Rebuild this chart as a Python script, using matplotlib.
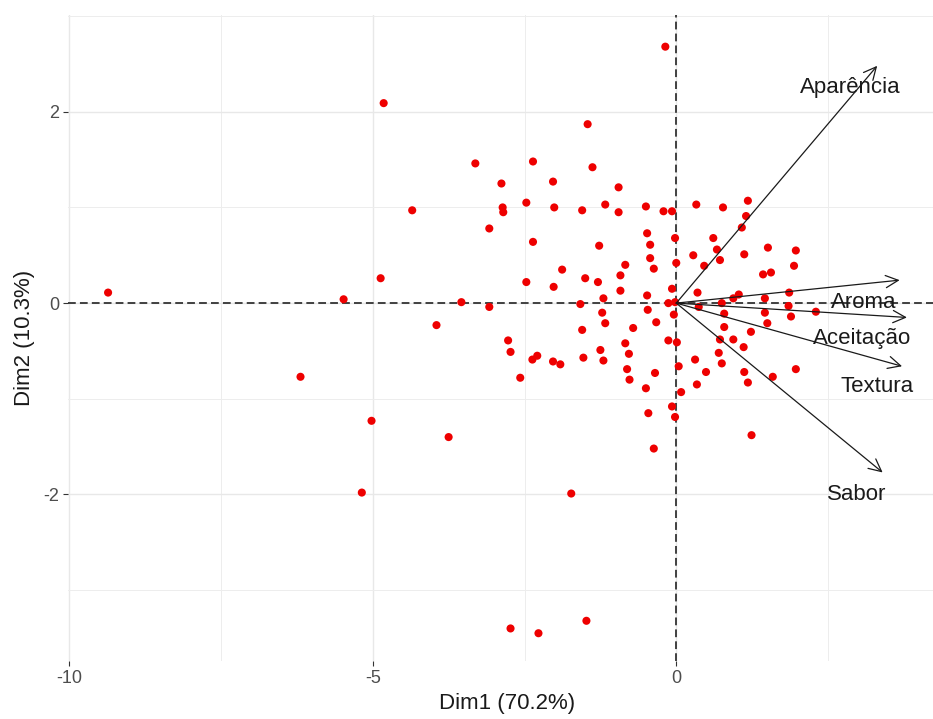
"""PCA biplot of the sensory attributes (individuals + variable loadings)."""
import numpy as np
import matplotlib
matplotlib.use("Agg")
import matplotlib.pyplot as plt
from matplotlib.patches import FancyArrowPatch
from matplotlib.ticker import FuncFormatter, MultipleLocator

plt.rcParams["font.family"] = ["Liberation Sans", "DejaVu Sans"]

# ---------------------------------------------------------------------------
# Individuals (scores on Dim1 / Dim2)
# ---------------------------------------------------------------------------
DIM1 = [
    -9.36, -6.19, -5.48, -5.18, -5.02, -4.87, -4.82, -4.35, -3.95, -3.75,
    -3.54, -3.31, -3.08, -3.08, -2.88, -2.86, -2.85, -2.77, -2.73, -2.73,
    -2.57, -2.47, -2.47, -2.37, -2.36, -2.36, -2.29, -2.27, -2.03, -2.02,
    -2.01, -2.03, -1.91, -1.88, -1.73, -1.58, -1.55, -1.55, -1.53, -1.50,
    -1.48, -1.46, -1.38, -1.29, -1.27, -1.25, -1.22, -1.20, -1.20, -1.17,
    -1.17, -0.95, -0.95, -0.92, -0.92, -0.84, -0.84, -0.81, -0.78, -0.77,
    -0.71, -0.50, -0.50, -0.48, -0.48, -0.47, -0.46, -0.43, -0.43, -0.37,
    -0.37, -0.35, -0.33, -0.21, -0.18, -0.13, -0.13, -0.07, -0.07, -0.07,
    -0.04, -0.02, -0.02, -0.02, 0.00, 0.01, 0.04, 0.08, 0.28, 0.31,
    0.33, 0.34, 0.35, 0.37, 0.46, 0.49, 0.61, 0.67, 0.70, 0.72,
    0.72, 0.75, 0.75, 0.77, 0.79, 0.79, 0.94, 0.94, 1.03, 1.08,
    1.11, 1.12, 1.12, 1.15, 1.18, 1.18, 1.23, 1.24, 1.43, 1.46,
    1.46, 1.50, 1.51, 1.56, 1.59, 1.85, 1.86, 1.89, 1.94, 1.97,
    1.97, 2.30,
]
DIM2 = [
    0.11, -0.77, 0.04, -1.98, -1.23, 0.26, 2.09, 0.97, -0.23, -1.40,
    0.01, 1.46, -0.04, 0.78, 1.25, 1.00, 0.95, -0.39, -0.51, -3.40,
    -0.78, 1.05, 0.22, -0.59, 1.48, 0.64, -0.55, -3.45, 1.27, 0.17,
    1.00, -0.61, -0.64, 0.35, -1.99, -0.01, 0.97, -0.28, -0.57, 0.26,
    -3.32, 1.87, 1.42, 0.22, 0.60, -0.49, -0.10, 0.05, -0.60, 1.03,
    -0.21, 1.21, 0.95, 0.29, 0.13, 0.40, -0.42, -0.69, -0.53, -0.80,
    -0.26, 1.01, -0.89, 0.73, 0.08, -0.07, -1.15, 0.61, 0.47, 0.36,
    -1.52, -0.73, -0.20, 0.96, 2.68, 0.00, -0.39, 0.96, 0.15, -1.08,
    -0.12, 0.68, 0.01, -1.19, 0.42, -0.41, -0.66, -0.93, 0.50, -0.59,
    1.03, -0.85, 0.11, -0.04, 0.39, -0.72, 0.68, 0.56, -0.52, 0.45,
    -0.38, 0.00, -0.63, 1.00, -0.11, -0.25, 0.05, -0.38, 0.09, 0.79,
    -0.46, 0.51, -0.72, 0.91, 1.07, -0.83, -0.30, -1.38, 0.30, 0.05,
    -0.10, -0.21, 0.58, 0.32, -0.77, -0.03, 0.11, -0.14, 0.39, 0.55,
    -0.69, -0.09,
]

# ---------------------------------------------------------------------------
# Variables (arrow tips) and where their labels sit
# ---------------------------------------------------------------------------
VAR_NAMES = ["Aparência", "Aroma", "Aceitação", "Textura", "Sabor"]
VAR_DIM1 = [3.31, 3.68, 3.80, 3.72, 3.40]
VAR_DIM2 = [2.48, 0.24, -0.15, -0.66, -1.77]
LABEL_DIM1 = [2.86, 3.08, 3.06, 3.30, 2.97]
LABEL_DIM2 = [2.25, 0.01, -0.37, -0.87, -2.00]

XLABEL = "Dim1 (70.2%)"
YLABEL = "Dim2 (10.3%)"


def hyphen_fmt(v, _pos):
    return f"{v:g}".replace("\u2212", "-")


def main():
    fig = plt.figure(figsize=(9.33, 7.19), dpi=100)
    # panel runs slightly past the right edge, as in the cropped original
    ax = fig.add_axes([0.0729, 0.0807, 1.015 - 0.0729, 0.979 - 0.0807])

    ax.set_xlim(-10.02, 4.46)
    ax.set_ylim(-3.74, 3.01)

    ax.xaxis.set_major_locator(MultipleLocator(5))
    ax.xaxis.set_minor_locator(MultipleLocator(2.5))
    ax.yaxis.set_major_locator(MultipleLocator(2))
    ax.yaxis.set_minor_locator(MultipleLocator(1))
    ax.xaxis.set_major_formatter(FuncFormatter(hyphen_fmt))
    ax.yaxis.set_major_formatter(FuncFormatter(hyphen_fmt))

    ax.grid(True, which="major", color="#E8E8E8", linewidth=1.0)
    ax.grid(True, which="minor", color="#EDEDED", linewidth=0.7)
    ax.set_axisbelow(True)
    for s in ax.spines.values():
        s.set_visible(False)
    ax.tick_params(which="major", length=3.5, width=0.8, color="#333333",
                   labelcolor="#4D4D4D", labelsize=13, pad=3)
    ax.tick_params(which="minor", length=0)

    # reference lines through the origin
    ax.axhline(0, color="#333333", linewidth=1.3, dashes=(4.3, 2.3), zorder=2)
    ax.axvline(0, color="#333333", linewidth=1.3, dashes=(4.3, 2.3), zorder=2)

    ax.scatter(DIM1, DIM2, s=34, color="#EE0000", edgecolors="none", zorder=3)

    for name, x, y, lx, ly in zip(VAR_NAMES, VAR_DIM1, VAR_DIM2, LABEL_DIM1, LABEL_DIM2):
        arr = FancyArrowPatch((0, 0), (x, y), arrowstyle="->,head_length=0.45,head_width=0.22",
                              mutation_scale=20, color="#1a1a1a", linewidth=0.9,
                              shrinkA=0, shrinkB=0, zorder=4)
        ax.add_patch(arr)
        ax.text(lx, ly, name, fontsize=16, color="#1a1a1a", ha="center", va="center", zorder=5)

    ax.set_xlabel(XLABEL, fontsize=16, color="#1a1a1a", labelpad=4)
    ax.set_ylabel(YLABEL, fontsize=16, color="#1a1a1a", labelpad=6)

    fig.savefig("out.png", dpi=100)
    plt.close(fig)


if __name__ == "__main__":
    main()
